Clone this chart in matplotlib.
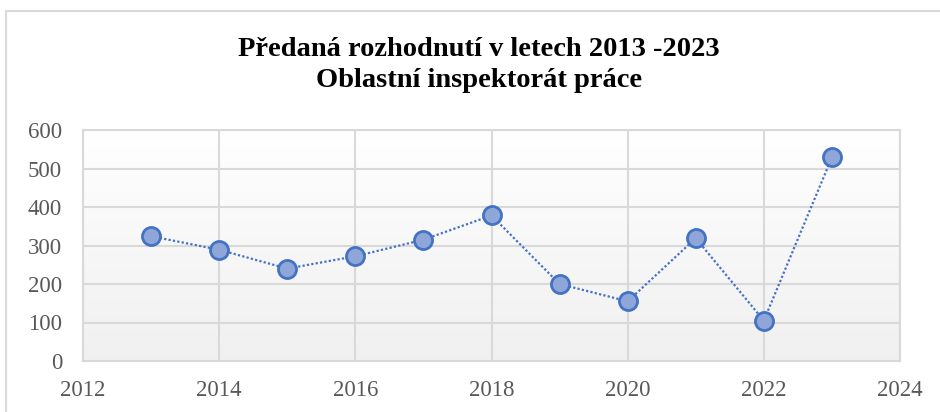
import matplotlib.pyplot as plt
import matplotlib.patches as patches
from matplotlib.colors import LinearSegmentedColormap
import numpy as np

plt.rcParams['font.family'] = ['Liberation Serif', 'DejaVu Serif']

years = [2013, 2014, 2015, 2016, 2017, 2018, 2019, 2020, 2021, 2022, 2023]
counts = [324, 289, 240, 272, 315, 378, 200, 155, 319, 105, 529]
x_ticks = [2012, 2014, 2016, 2018, 2020, 2022, 2024]
y_ticks = [0, 100, 200, 300, 400, 500, 600]
title = "Předaná rozhodnutí v letech 2013 -2023\nOblastní inspektorát práce"

fig = plt.figure(figsize=(9.4, 4.12), dpi=100)

# outer chart frame (runs off the right and bottom edges, like the source crop)
fig.patches.append(patches.Rectangle((6/940, -0.05), 1.1, 1.05 - 11/412,
                                     transform=fig.transFigure, fill=False,
                                     edgecolor='#d9d9d9', linewidth=1.5))

ax = fig.add_axes([83/940, 1 - 361/412, 817/940, 231/412])

# gradient background in the plot area
grad = np.linspace(0, 1, 256).reshape(-1, 1)
cmap = LinearSegmentedColormap.from_list('g', ['#ffffff', '#f0f0f0'])
ax.imshow(grad, extent=[0, 1, 0, 1], transform=ax.transAxes, aspect='auto',
          cmap=cmap, origin='upper', zorder=0)

ax.plot(years, counts, linestyle=(0, (1, 1)), color='#4472c4', linewidth=1.6,
        marker='o', markersize=13, markerfacecolor='#8fa6d8',
        markeredgecolor='#4472c4', markeredgewidth=2, zorder=3)

ax.set_xlim(2012, 2024)
ax.set_ylim(0, 600)
ax.set_xticks(x_ticks)
ax.set_yticks(y_ticks)
ax.grid(True, color='#d9d9d9', linewidth=1.5, zorder=1)
ax.set_axisbelow(True)
for s in ax.spines.values():
    s.set_color('#d9d9d9')
    s.set_linewidth(1.5)
ax.tick_params(length=0, labelsize=16.5, labelcolor='#595959')
ax.tick_params(axis='y', pad=15)
ax.tick_params(axis='x', pad=14)

fig.text(479/940, 1 - 65/412, title, ha='center', va='center',
         fontsize=20.5, fontweight='bold', linespacing=1.3)

fig.savefig('out.png', dpi=100)
